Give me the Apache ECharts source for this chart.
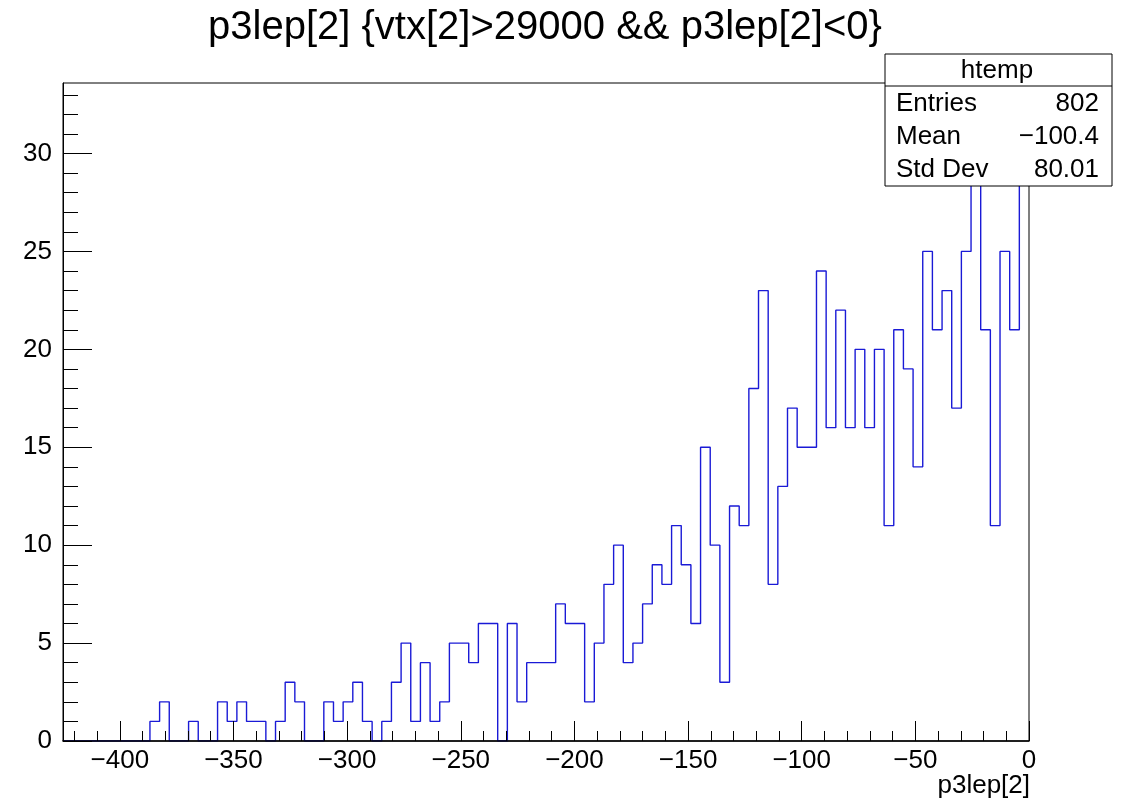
<!DOCTYPE html>
<html>
<head>
<meta charset="utf-8">
<script src="https://cdn.jsdelivr.net/npm/echarts@6/dist/echarts.min.js"></script>
<style>
html,body{margin:0;padding:0;background:#fff;}
#chart{width:1135px;height:803px;}
</style>
</head>
<body>
<div id="chart"></div>
<script>
// ---- data ----
const titleText = 'p3lep[2] {vtx[2]>29000 && p3lep[2]<0}';
const xTitle = 'p3lep[2]';
const histName = 'htemp';
const binMin = -425;
const binWidth = 4.25;
const counts = [
  0,0,0,0,0,0,0,0,0,1,
  2,0,0,1,0,0,2,1,2,1,
  1,0,1,3,2,0,0,2,1,2,
  3,1,0,1,3,5,1,4,1,2,
  5,5,4,6,6,0,6,2,4,4,
  4,7,6,6,2,5,8,10,4,5,
  7,9,8,11,9,6,15,10,3,12,
  11,18,23,8,13,17,15,15,24,16,
  22,16,20,16,20,11,21,19,14,25,
  21,23,17,25,30,21,11,25,21,32
];
const xTicks = [-400,-350,-300,-250,-200,-150,-100,-50,0];
const xMinorTicks = [-420,-410,-400,-390,-380,-370,-360,-350,-340,-330,-320,-310,-300,-290,-280,-270,-260,-250,-240,-230,-220,-210,-200,-190,-180,-170,-160,-150,-140,-130,-120,-110,-100,-90,-80,-70,-60,-50,-40,-30,-20,-10,0];
const yTicks = [0,5,10,15,20,25,30];
const yMinorTicks = [0,1,2,3,4,5,6,7,8,9,10,11,12,13,14,15,16,17,18,19,20,21,22,23,24,25,26,27,28,29,30,31,32,33];
const statsLabels = ['Entries','Mean','Std Dev'];
const statsValues = ['802','\u2212100.4','80.01'];

// ---- build ----
const xMax = binMin + binWidth * counts.length;
const yMax = 33.6;
const pts = [];
for (let k = 0; k < counts.length; k++) pts.push([binMin + k * binWidth, counts[k]]);
pts.push([xMax, counts[counts.length - 1]]);

const FONT = '"Liberation Sans", Arial, Helvetica, sans-serif';
const fmt = v => v < 0 ? '\u2212' + Math.abs(v) : String(v);

const chart = echarts.init(document.getElementById('chart'), null, {renderer: 'canvas'});

const SF = '26px ' + FONT;
const statsGroup = [];
statsGroup.push({type:'rect', shape:{x:885, y:54, width:227, height:132}, style:{fill:'#fff', stroke:'#000', lineWidth:1}, z:100});
statsGroup.push({type:'line', shape:{x1:885, y1:86, x2:1112, y2:86}, style:{stroke:'#000', lineWidth:1}, z:101});
statsGroup.push({type:'text', x:997, y:71, style:{text:histName, font:SF, fill:'#000', textAlign:'center', textVerticalAlign:'middle'}, z:101});
for (let i = 0; i < statsLabels.length; i++) {
  const y = 104 + i * 33;
  statsGroup.push({type:'text', x:896, y:y, style:{text:statsLabels[i], font:SF, fill:'#000', textAlign:'left', textVerticalAlign:'middle'}, z:101});
  statsGroup.push({type:'text', x:1099, y:y, style:{text:statsValues[i], font:SF, fill:'#000', textAlign:'right', textVerticalAlign:'middle'}, z:101});
}

const G = {left:63, right:106, top:83, bottom:62};
const option = {
  animation: false,
  backgroundColor: '#fff',
  grid: [
    Object.assign({show:true, borderColor:'#000', borderWidth:1, backgroundColor:'transparent'}, G),
    Object.assign({show:false}, G)
  ],
  xAxis: [
    {
      type:'value', gridIndex:0, min:binMin, max:xMax, position:'bottom', z:10,
      axisLine:{show:true, onZero:false, lineStyle:{color:'#000', width:1.6}},
      axisTick:{show:true, inside:true, length:20, customValues:xTicks, lineStyle:{color:'#000', width:1}},
      axisLabel:{show:true, customValues:xTicks, formatter:fmt, fontSize:26, fontFamily:FONT, color:'#000', margin:7},
      splitLine:{show:false}
    },
    {
      type:'value', gridIndex:1, min:binMin, max:xMax, position:'bottom', z:10,
      axisLine:{show:false, onZero:false},
      axisTick:{show:true, inside:true, length:10, customValues:xMinorTicks, lineStyle:{color:'#000', width:1}},
      axisLabel:{show:false},
      splitLine:{show:false}
    }
  ],
  yAxis: [
    {
      type:'value', gridIndex:0, min:0, max:yMax, position:'left', z:10,
      axisLine:{show:true, onZero:false, lineStyle:{color:'#000', width:1}},
      axisTick:{show:true, inside:true, length:29, customValues:yTicks, lineStyle:{color:'#000', width:1}},
      axisLabel:{show:true, customValues:yTicks, formatter:fmt, fontSize:26, fontFamily:FONT, color:'#000', margin:11},
      splitLine:{show:false}
    },
    {
      type:'value', gridIndex:1, min:0, max:yMax, position:'left', z:10,
      axisLine:{show:false, onZero:false},
      axisTick:{show:true, inside:true, length:15, customValues:yMinorTicks, lineStyle:{color:'#000', width:1}},
      axisLabel:{show:false},
      splitLine:{show:false}
    }
  ],
  series: [{
    type:'line', xAxisIndex:0, yAxisIndex:0, data:pts, step:'end', symbol:'none',
    lineStyle:{color:'#1a1ad6', width:1.4}, z:2, clip:true
  }],
  graphic: [
    {type:'text', x:545, y:28, style:{text:titleText, font:'40px ' + FONT, fill:'#000', textAlign:'center', textVerticalAlign:'middle'}, z:50},
    {type:'text', x:1030, y:786, style:{text:xTitle, font:'26px ' + FONT, fill:'#000', textAlign:'right', textVerticalAlign:'middle'}, z:50},
    {type:'group', children: statsGroup, z:100}
  ]
};
chart.setOption(option);
</script>
</body>
</html>
